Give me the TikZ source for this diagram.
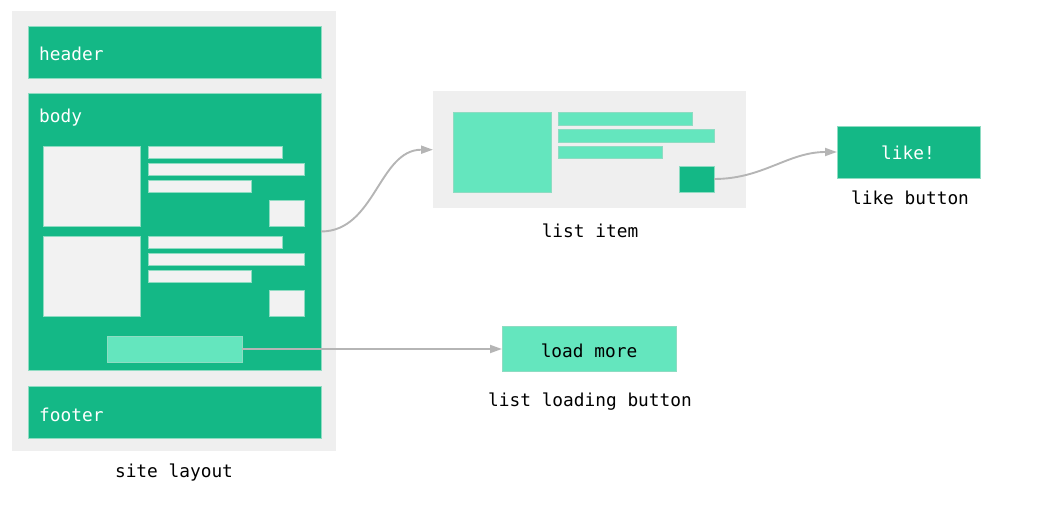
\documentclass[tikz,border=0pt]{standalone}
\usepackage{fontspec}
\setmonofont{DejaVu Sans Mono}
\usetikzlibrary{arrows.meta}
\definecolor{grn}{HTML}{14B886}
\definecolor{lgrn}{HTML}{64E6BE}
\definecolor{bgray}{HTML}{EFEFEF}
\definecolor{igray}{HTML}{F2F2F2}
\definecolor{agray}{HTML}{B5B5B5}
\definecolor{edge}{HTML}{8EDCC2}
\tikzset{
  rbox/.style={anchor=north west, inner sep=0pt, outer sep=0pt, draw=edge, line width=0.6pt},
  lbl/.style={font=\ttfamily\fontsize{17.8}{20}\selectfont, inner sep=0pt, anchor=base},
  wlbl/.style={lbl, text=white},
  conn/.style={draw=agray, line width=1.9pt, -{Triangle[length=12pt,width=8pt]}},
}
\newcommand{\rb}[6]{\node[rbox, fill=#6, minimum width=#4pt-#2pt, minimum height=#5pt-#3pt] (#1) at (#2,#3) {};}
\begin{document}
\begin{tikzpicture}[x=1pt,y=-1pt]
\useasboundingbox (0,0) rectangle (1057,510);
% site layout
\node[anchor=north west, inner sep=0pt, fill=bgray, minimum width=324pt, minimum height=440pt] (site) at (12,11) {};
\rb{header}{28}{26}{321}{78}{grn}
\rb{body}{28}{93}{321}{370}{grn}
\rb{footer}{28}{386}{321}{438}{grn}
\node[wlbl, anchor=base west] (thead) at (39,61) {header};
\node[wlbl, anchor=base west] (tbody) at (39,123) {body};
\node[wlbl, anchor=base west] (tfoot) at (39,421) {footer};
% item 1
\rb{imga}{43}{146}{140}{226}{igray}
\rb{la1}{148}{146}{282}{158}{igray}
\rb{la2}{148}{163}{304}{175}{igray}
\rb{la3}{148}{180}{251}{192}{igray}
\rb{ba}{269}{200}{304}{226}{igray}
% item 2
\rb{imgb}{43}{236}{140}{316}{igray}
\rb{lb1}{148}{236}{282}{248}{igray}
\rb{lb2}{148}{253}{304}{265}{igray}
\rb{lb3}{148}{270}{251}{282}{igray}
\rb{bb}{269}{290}{304}{316}{igray}
% load more bar
\rb{lmbar}{107}{336}{242}{362}{lgrn}
\node[lbl] (tsite) at (174,477) {site layout};
% list item
\node[anchor=north west, inner sep=0pt, fill=bgray, minimum width=313pt, minimum height=117pt] (item) at (433,91) {};
\rb{iimg}{453}{112}{551}{192}{lgrn}
\rb{il1}{558}{112}{692}{125}{lgrn}
\rb{il2}{558}{129}{714}{142}{lgrn}
\rb{il3}{558}{146}{662}{158}{lgrn}
\rb{ibtn}{679}{166}{714}{192}{grn}
\node[lbl] (titem) at (590,238) {list item};
% like button
\rb{like}{837}{126}{980}{178}{grn}
\node[wlbl] (tlike) at (908,160) {like!};
\node[lbl] (tlikeb) at (910,205) {like button};
% load more
\rb{lm}{502}{326}{676}{371}{lgrn}
\node[lbl] (tlm) at (589,357) {load more};
\node[lbl] (tlmb) at (590,406) {list loading button};
% connectors
\draw[conn] (body.east) to[out=0,in=180] (item.west);
\draw[conn] (ibtn.east) to[out=0,in=180] (like.west);
\draw[conn] (lmbar.east) -- (lmbar.east -| lm.west);
\end{tikzpicture}
\end{document}
